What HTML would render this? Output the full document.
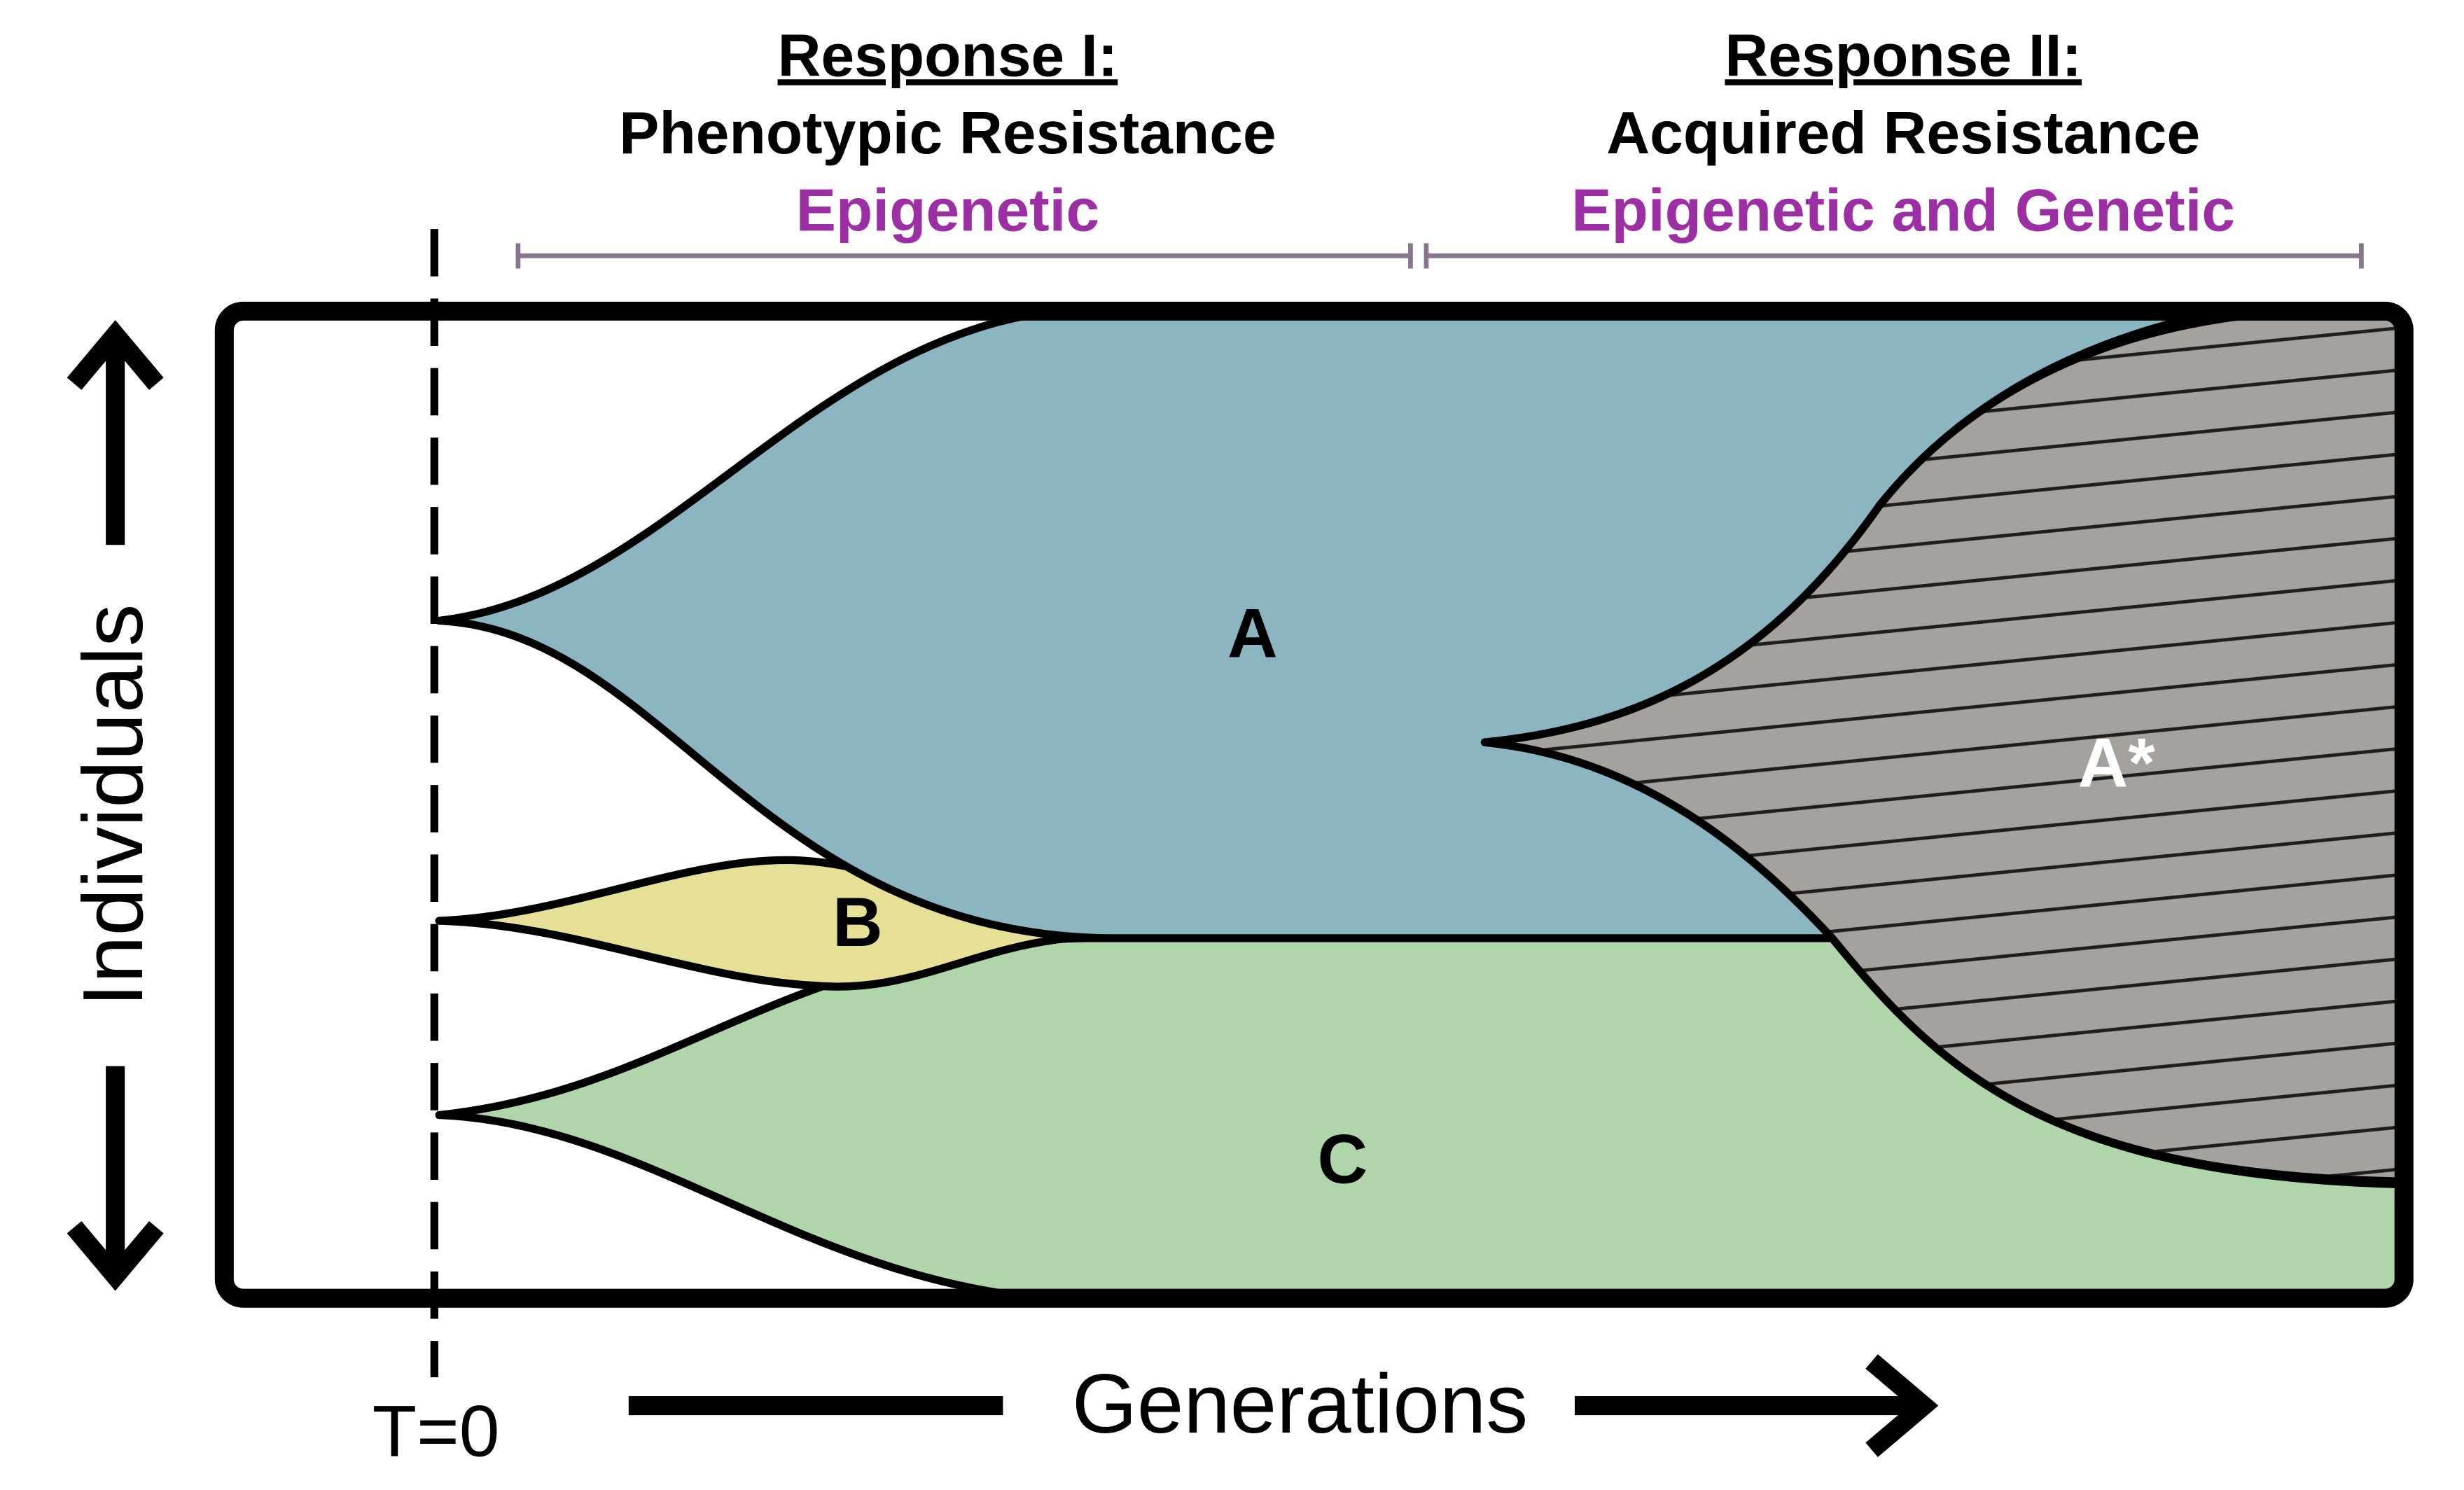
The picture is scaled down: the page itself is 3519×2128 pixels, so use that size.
<!DOCTYPE html>
<html><head><meta charset="utf-8"><style>
html,body{margin:0;padding:0;background:#fff;}
svg{display:block;}
text{font-family:"Liberation Sans",sans-serif;}
</style></head><body>
<svg width="3519" height="2128" viewBox="0 0 1560 943.4" preserveAspectRatio="none" xmlns="http://www.w3.org/2000/svg">
<defs>
<pattern id="h" width="200" height="26.5" patternUnits="userSpaceOnUse" patternTransform="rotate(-5.7)">
<rect width="200" height="26.5" fill="#a5a19c"/>
<line x1="0" y1="13" x2="200" y2="13" stroke="#1e1e1e" stroke-width="2.2"/>
</pattern>
<clipPath id="fr"><rect x="142" y="197" width="1380" height="625" rx="12"/></clipPath>
</defs>
<rect width="1560" height="943.4" fill="#fff"/>
<g clip-path="url(#fr)" stroke="#000" stroke-width="5" stroke-linejoin="round">
<path d="M278,706 C430,690 500,596 690,594 L1160,594 C1230,680 1300,745 1525,750 L1525,830 L700,830 L700,824 C520,824 420,712 278,706 Z" fill="#b0d5aa"/>
<path d="M278,583 C360,580 440,540 510,545 C580,550 620,590 690,593 C620,596 580,630 515,624 C440,620 360,585 278,583 Z" fill="#e5e096"/>
<path d="M278,393 C430,375 520,195 700,195 L1420,195 C1300,215 1230,270 1190,320 C1120,420 1040,460 940,470 C1040,480 1110,540 1160,594 L700,594 C480,590 420,400 278,393 Z" fill="#8bb6c1"/>
<path d="M940,470 C1040,460 1120,420 1190,320 C1230,270 1300,215 1420,200 L1525,195 L1525,748 C1300,745 1230,680 1160,594 C1110,540 1040,480 940,470 Z" fill="url(#h)"/>
</g>
<rect x="142" y="197" width="1380" height="625" rx="12" fill="none" stroke="#000" stroke-width="12"/>
<line x1="275" y1="145" x2="275" y2="872" stroke="#000" stroke-width="5" stroke-dasharray="30,14"/>
<g font-weight="bold" font-size="44" text-anchor="middle">
<text x="793" y="416">A</text>
<text x="543" y="599">B</text>
<text x="850" y="749">C</text>
<text x="1340" y="498" fill="#fff">A*</text>
</g>
<g font-weight="bold" font-size="38" text-anchor="middle">
<text x="600" y="48" text-decoration="underline">Response I:</text>
<text x="600" y="97">Phenotypic Resistance</text>
<text x="600" y="146" fill="#9b2fa3">Epigenetic</text>
<text x="1205" y="48" text-decoration="underline">Response II:</text>
<text x="1205" y="97">Acquired Resistance</text>
<text x="1205" y="146" fill="#9b2fa3">Epigenetic and Genetic</text>
</g>
<g stroke="#8a7590" stroke-width="3">
<line x1="328" y1="162" x2="893" y2="162"/><line x1="328" y1="154" x2="328" y2="170"/><line x1="893" y1="154" x2="893" y2="170"/>
<line x1="903" y1="162" x2="1495" y2="162"/><line x1="903" y1="154" x2="903" y2="170"/><line x1="1495" y1="154" x2="1495" y2="170"/>
</g>
<g stroke="#000" stroke-width="12" fill="none">
<line x1="73" y1="212" x2="73" y2="345"/>
<polyline points="47,243 73,212 99,243"/>
<line x1="73" y1="675" x2="73" y2="808"/>
<polyline points="47,777 73,808 99,777"/>
</g>
<text transform="translate(90,510) rotate(-90)" font-size="54" text-anchor="middle">Individuals</text>
<text x="276" y="922" font-size="46" text-anchor="middle">T=0</text>
<text x="823" y="907" font-size="53" text-anchor="middle">Generations</text>
<g stroke="#000" stroke-width="12" fill="none">
<line x1="398" y1="890" x2="635" y2="890"/>
<line x1="997" y1="890" x2="1218" y2="890"/>
<polyline points="1185,862 1218,890 1185,918"/>
</g>
</svg>
</body></html>
